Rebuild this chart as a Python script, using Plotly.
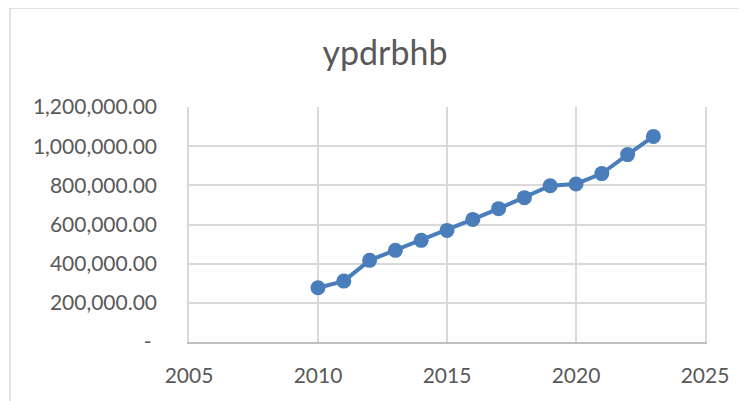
import plotly.graph_objects as go

years = [2010, 2011, 2012, 2013, 2014, 2015, 2016, 2017, 2018, 2019, 2020, 2021, 2022, 2023]
values = [277000, 311000, 417000, 468000, 519000, 570000, 626000, 681000, 737000, 798000, 807000, 860000, 957000, 1050000]
y_tickvals = [0, 200000, 400000, 600000, 800000, 1000000, 1200000]
y_ticktext = ["-\u00a0", "200,000.00", "400,000.00", "600,000.00", "800,000.00", "1,000,000.00", "1,200,000.00"]
x_tickvals = [2005, 2010, 2015, 2020, 2025]

W, H = 747, 401
OFF = 8  # page body margin
L, T = 189 - OFF, 107 - OFF
pw, ph = 516, 235
R, B = W - L - pw, H - T - ph

def px_x(p):
    return (p - OFF - L) / pw

def px_y(p):
    return (T + ph - (p - OFF)) / ph

blue = "#4a7ebb"
fig = go.Figure(go.Scatter(
    x=years, y=values, mode="lines+markers",
    line=dict(color=blue, width=4),
    marker=dict(color=blue, size=15),
    showlegend=False, cliponaxis=False,
))

font = "Lato, 'Open Sans', sans-serif"
fig.update_layout(
    width=W, height=H,
    margin=dict(l=L, r=R, t=T, b=B),
    paper_bgcolor="white", plot_bgcolor="white",
    title=dict(text="ypdrbhb", x=(385 - OFF) / W, xanchor="center", y=1 - (53 - OFF) / H, yanchor="middle",
               font=dict(family=font, size=34, color="#595959")),
    font=dict(family=font, color="#595959"),
    xaxis=dict(range=[2005, 2025], tickvals=x_tickvals, ticktext=[str(v) for v in x_tickvals],
               showgrid=True, gridcolor="#d9d9d9", gridwidth=1.5,
               showline=True, linecolor="#bfbfbf", linewidth=1.5, mirror=False,
               zeroline=False, ticks="", ticklabelstandoff=14,
               tickfont=dict(family=font, size=21, color="#595959")),
    yaxis=dict(range=[0, 1200000], tickvals=y_tickvals, ticktext=y_ticktext,
               showgrid=True, gridcolor="#d9d9d9", gridwidth=1.5,
               showline=True, linecolor="#d9d9d9", linewidth=1.5, mirror=True,
               zeroline=False, ticks="", ticklabelstandoff=26,
               tickfont=dict(family=font, size=21, color="#595959")),
    shapes=[dict(type="rect", xref="paper", yref="paper",
                 x0=px_x(10), x1=px_x(760), y0=px_y(420), y1=px_y(8),
                 line=dict(color="#d9d9d9", width=1.5), fillcolor="rgba(0,0,0,0)", layer="below")],
)

fig.write_html("out.html")
